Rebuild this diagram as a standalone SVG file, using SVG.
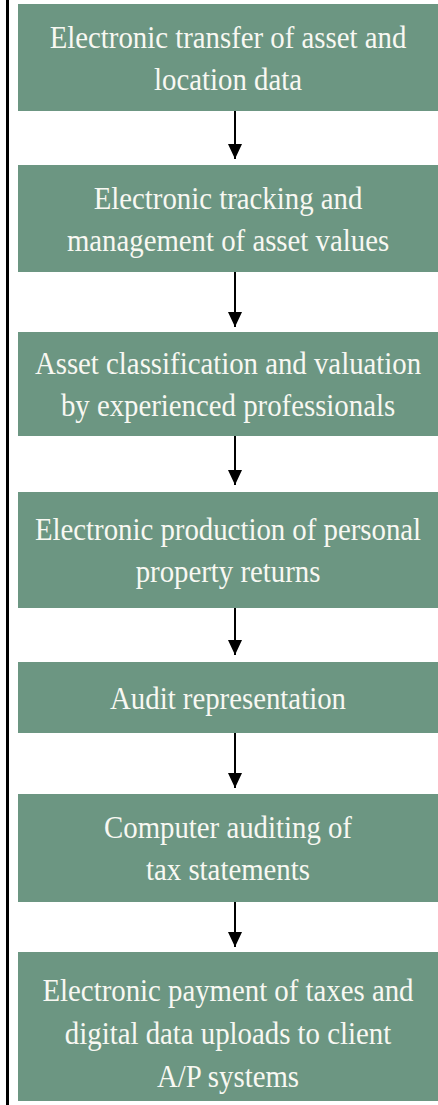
<svg xmlns="http://www.w3.org/2000/svg" width="438" height="1105" viewBox="0 0 438 1105">
<style>
.box{fill:#6c9682}
.t{font-family:"Liberation Serif",serif;font-size:32px;fill:#f8f8f2;text-anchor:middle}
.c{stroke:#000;stroke-width:2;fill:none}
</style>
<defs>
<marker id="ah" markerUnits="userSpaceOnUse" markerWidth="16" markerHeight="16" viewBox="0 -8 16 16" refX="15" refY="0" orient="auto">
<path d="M0,-7 L15,0 L0,7 z" fill="#000"/>
</marker>
</defs>
<rect x="0" y="0" width="438" height="1105" fill="#fff"/>
<line x1="7.5" y1="0" x2="7.5" y2="1105" stroke="#000" stroke-width="3"/>
<g id="n1"><rect class="box" x="18" y="4" width="420" height="107"/>
<text class="t" transform="translate(228 48) scale(0.9 1)">Electronic transfer of asset and</text>
<text class="t" transform="translate(228 90) scale(0.9 1)">location data</text></g>
<g id="n2"><rect class="box" x="18" y="165" width="420" height="107"/>
<text class="t" transform="translate(228 209) scale(0.9 1)">Electronic tracking and</text>
<text class="t" transform="translate(228 251) scale(0.9 1)">management of asset values</text></g>
<g id="n3"><rect class="box" x="18" y="332" width="420" height="104"/>
<text class="t" transform="translate(228 374) scale(0.9 1)">Asset classification and valuation</text>
<text class="t" transform="translate(228 416) scale(0.9 1)">by experienced professionals</text></g>
<g id="n4"><rect class="box" x="18" y="492" width="420" height="116"/>
<text class="t" transform="translate(228 540) scale(0.9 1)">Electronic production of personal</text>
<text class="t" transform="translate(228 582) scale(0.9 1)">property returns</text></g>
<g id="n5"><rect class="box" x="18" y="662" width="420" height="71"/>
<text class="t" transform="translate(228 709) scale(0.9 1)">Audit representation</text></g>
<g id="n6"><rect class="box" x="18" y="794" width="420" height="108"/>
<text class="t" transform="translate(228 838) scale(0.9 1)">Computer auditing of</text>
<text class="t" transform="translate(228 880) scale(0.9 1)">tax statements</text></g>
<g id="n7"><rect class="box" x="18" y="952" width="420" height="149"/>
<text class="t" transform="translate(228 1001) scale(0.9 1)">Electronic payment of taxes and</text>
<text class="t" transform="translate(228 1044) scale(0.9 1)">digital data uploads to client</text>
<text class="t" transform="translate(228 1087) scale(0.9 1)">A/P systems</text></g>
<g id="connectors">
<line class="c" x1="235" y1="111" x2="235" y2="159" marker-end="url(#ah)"/>
<line class="c" x1="235" y1="272" x2="235" y2="327" marker-end="url(#ah)"/>
<line class="c" x1="235" y1="436" x2="235" y2="485" marker-end="url(#ah)"/>
<line class="c" x1="235" y1="608" x2="235" y2="655" marker-end="url(#ah)"/>
<line class="c" x1="235" y1="733" x2="235" y2="788" marker-end="url(#ah)"/>
<line class="c" x1="235" y1="902" x2="235" y2="947" marker-end="url(#ah)"/>
</g>
</svg>
